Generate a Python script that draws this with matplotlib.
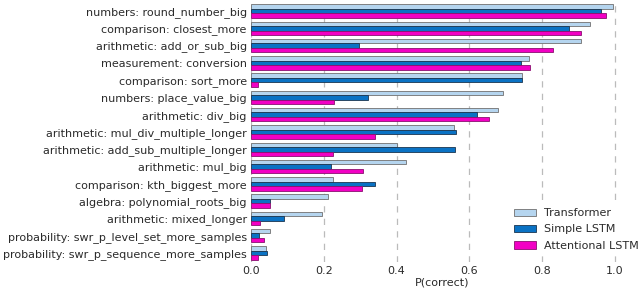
import numpy as np
import matplotlib.pyplot as plt

tasks = [
    "numbers: round_number_big",
    "comparison: closest_more",
    "arithmetic: add_or_sub_big",
    "measurement: conversion",
    "comparison: sort_more",
    "numbers: place_value_big",
    "arithmetic: div_big",
    "arithmetic: mul_div_multiple_longer",
    "arithmetic: add_sub_multiple_longer",
    "arithmetic: mul_big",
    "comparison: kth_biggest_more",
    "algebra: polynomial_roots_big",
    "arithmetic: mixed_longer",
    "probability: swr_p_level_set_more_samples",
    "probability: swr_p_sequence_more_samples",
]
transformer = [0.994, 0.933, 0.906, 0.764, 0.744, 0.694, 0.679, 0.557, 0.400,
               0.425, 0.226, 0.212, 0.194, 0.051, 0.041]
simple_lstm = [0.962, 0.873, 0.297, 0.742, 0.744, 0.321, 0.620, 0.563, 0.560,
               0.220, 0.340, 0.053, 0.092, 0.021, 0.043]
attn_lstm = [0.977, 0.908, 0.829, 0.768, 0.020, 0.229, 0.654, 0.340, 0.226,
             0.307, 0.305, 0.051, 0.025, 0.035, 0.018]

fig = plt.figure(figsize=(6.4, 2.92), dpi=100)
ax = fig.add_axes([251 / 640, 1 - 262 / 292, 0.989 - 251 / 640, 260 / 292])

y = np.arange(len(tasks))
h = 0.26
ax.barh(y - h, transformer, height=h, color="#b5d5ef", edgecolor="#707070",
        linewidth=0.6, label="Transformer", zorder=3)
ax.barh(y, simple_lstm, height=h, color="#0a72c4", edgecolor="#1a3550",
        linewidth=0.6, label="Simple LSTM", zorder=3)
ax.barh(y + h, attn_lstm, height=h, color="#f200c4", edgecolor="#8a1070",
        linewidth=0.6, label="Attentional LSTM", zorder=3)

ax.set_yticks(y)
ax.set_yticklabels(tasks, fontsize=8, color="#2a2a2a")
ax.set_ylim(14.52, -0.52)
ax.set_xlim(0, 1.05)
ax.set_xticks([0, 0.2, 0.4, 0.6, 0.8, 1.0])
ax.set_xticklabels(["0.0", "0.2", "0.4", "0.6", "0.8", "1.0"], fontsize=8, color="#2a2a2a")
ax.tick_params(length=0, pad=3)
ax.xaxis.grid(True, linestyle=(0, (5, 5)), color="#bbbbbb", linewidth=0.9, zorder=0)
for s in ax.spines.values():
    s.set_visible(False)
ax.set_xlabel("P(correct)", fontsize=8, color="#2a2a2a", labelpad=1)

leg = ax.legend(loc="lower right", bbox_to_anchor=(1.005, 1 - 255 / 292),
                bbox_transform=fig.transFigure, frameon=True, fontsize=8,
                borderaxespad=0, handlelength=2.0, labelspacing=0.55,
                handletextpad=0.7)
leg.get_frame().set_edgecolor("white")
leg.get_frame().set_alpha(1)
for t in leg.get_texts():
    t.set_color("#2a2a2a")

fig.savefig("out.png")
